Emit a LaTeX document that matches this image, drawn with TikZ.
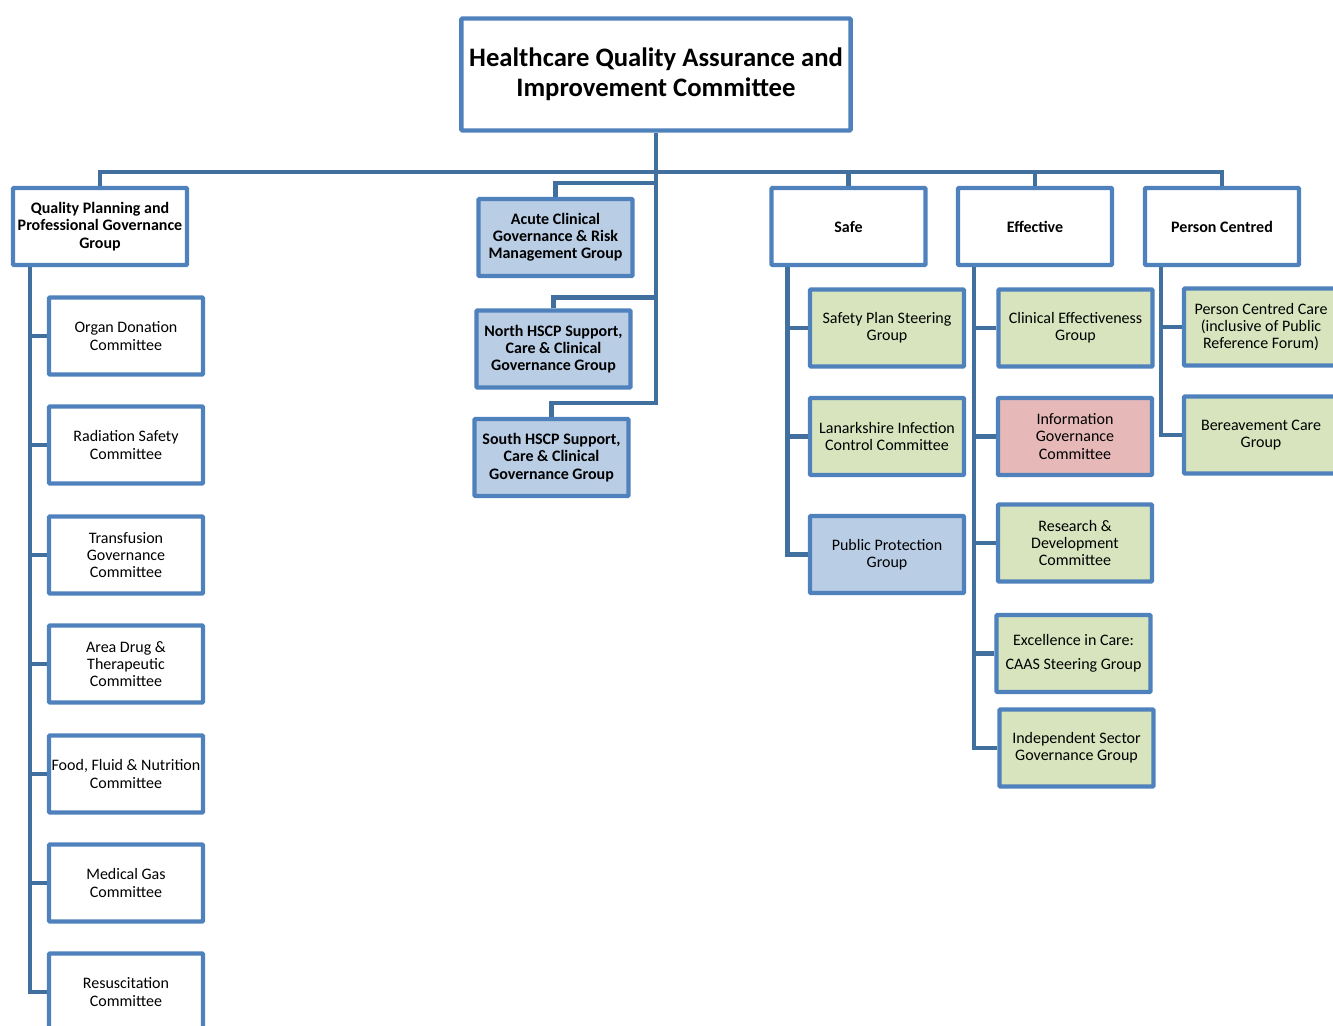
\documentclass[tikz,border=0pt]{standalone}
\usepackage{fontspec}
\setmainfont{Carlito}
\definecolor{boxblue}{HTML}{4F81BD}
\definecolor{lineblue}{HTML}{41709E}
\definecolor{fillblue}{HTML}{B9CDE5}
\definecolor{fillgreen}{HTML}{D7E4BD}
\definecolor{fillpink}{HTML}{E6B9B8}
\begin{document}
\begin{tikzpicture}[x=0.75pt,y=-0.75pt,
	box/.style={draw=boxblue,line width=3.3pt,fill=white,align=center,inner sep=0pt,
		minimum width=115.5pt,minimum height=57.75pt,rounded corners=0.8pt,
		font=\fontsize{12pt}{12.9pt}\selectfont},
	head/.style={box,font=\fontsize{12pt}{12.9pt}\selectfont\bfseries},
	green/.style={box,fill=fillgreen},
	blue/.style={box,fill=fillblue},
	conn/.style={draw=lineblue,line width=3.3pt}]
	\useasboundingbox (0,0) rectangle (1333,1025);
	\node (top) at (656,74.5) [box,minimum width=292pt,minimum height=84pt,
		font=\fontsize{20pt}{22.5pt}\selectfont\bfseries] {Healthcare Quality Assurance and\\Improvement Committee};
	\node (qp) at (100,226.5) [head,minimum width=130.5pt] {Quality Planning and\\Professional Governance\\Group};
	\node (safe) at (848.5,226.5) [head] {Safe};
	\node (eff) at (1035,226.5) [head] {Effective};
	\node (pc) at (1222,226.5) [head] {Person Centred};
	\node (acute) at (555.5,237.5) [blue,font=\fontsize{12pt}{12.9pt}\selectfont\bfseries] {Acute Clinical\\Governance \& Risk\\Management Group};
	\node (north) at (553.5,349) [blue,font=\fontsize{12pt}{12.9pt}\selectfont\bfseries] {North HSCP Support,\\Care \& Clinical\\Governance Group};
	\node (south) at (551.5,457.5) [blue,font=\fontsize{12pt}{12.9pt}\selectfont\bfseries] {South HSCP Support,\\Care \& Clinical\\Governance Group};
	\foreach \y/\t [count=\i] in {336/{Organ Donation\\Committee},445/{Radiation Safety\\Committee},
		555/{Transfusion\\Governance\\Committee},664/{Area Drug \&\\Therapeutic\\Committee},
		774/{Food, Fluid \& Nutrition\\Committee},883/{Medical Gas\\Committee},992/{Resuscitation\\Committee}}
	\node (q\i) at (126,\y) [box] {\t};
	\node (sp) at (887,328) [green] {Safety Plan Steering\\Group};
	\node (lic) at (887,436.5) [green] {Lanarkshire Infection\\Control Committee};
	\node (pp) at (887,554.5) [blue] {Public Protection\\Group};
	\node (ce) at (1075.5,328) [green] {Clinical Effectiveness\\Group};
	\node (ig) at (1075,436.5) [box,fill=fillpink] {Information\\Governance\\Committee};
	\node (rd) at (1075,543) [green] {Research \&\\Development\\Committee};
	\node (eic) at (1073.5,653.5) [green] {Excellence in Care:\\[5.25pt]CAAS Steering Group};
	\node (isg) at (1076.5,748) [green] {Independent Sector\\Governance Group};
	\node (pcc) at (1261,327) [green] {Person Centred Care\\(inclusive of Public\\Reference Forum)};
	\node (bc) at (1261,435) [green] {Bereavement Care\\Group};
	% connectors
	\coordinate (bus) at (656,172);
	\draw[conn] (top.south) -- (bus);
	\foreach \n in {qp,safe,eff,pc}
	\draw[conn] (\n.north) |- (bus);
	\draw[conn] (acute.north) -- ++(0,-14) -| (bus);
	\draw[conn] (north.north) -- ++(0,-11) -| (bus);
	\draw[conn] (south.north) -- ++(0,-14) -| (bus);
	\foreach \i in {1,...,7}
	\draw[conn] (q\i.west) -| ([xshift=14.5pt]qp.south west);
	\foreach \n in {sp,lic,pp}
	\draw[conn] (\n.west) -| ([xshift=13.5pt]safe.south west);
	\foreach \n in {ce,ig,rd,eic,isg}
	\draw[conn] (\n.west) -| ([xshift=13.5pt]eff.south west);
	\foreach \n in {pcc,bc}
	\draw[conn] (\n.west) -| ([xshift=13.5pt]pc.south west);
\end{tikzpicture}
\end{document}
